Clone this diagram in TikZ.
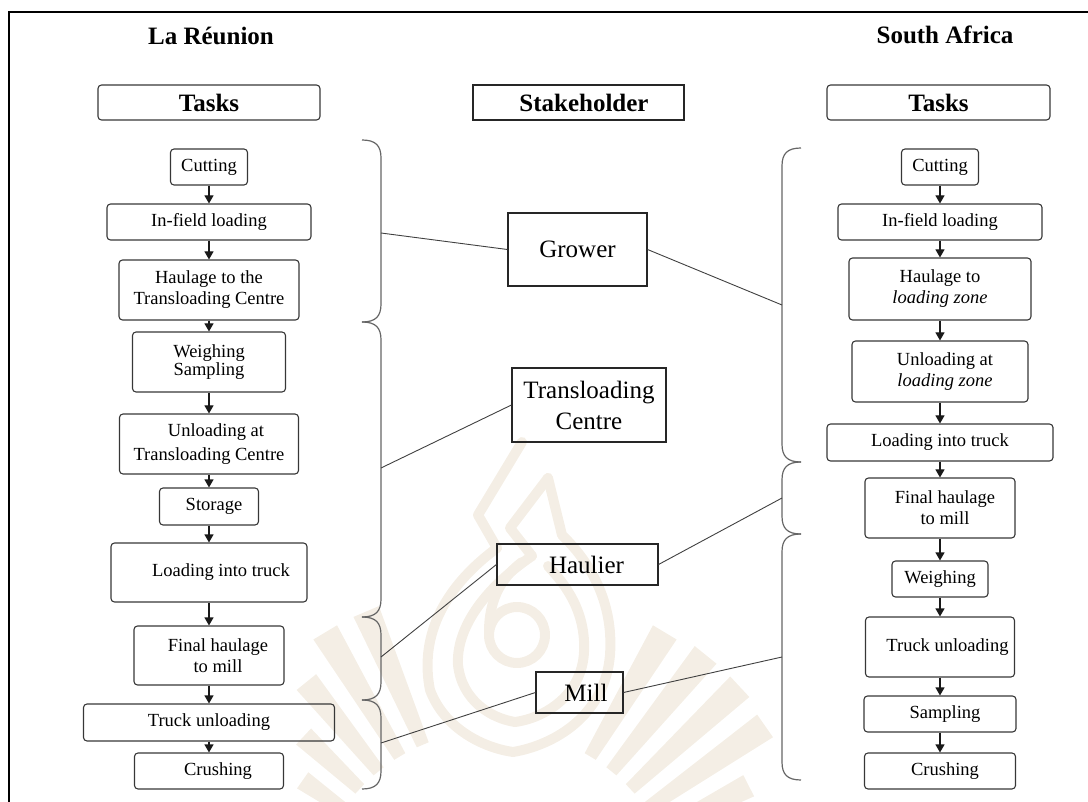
\documentclass[tikz,border=0pt]{standalone}
\usepackage{fontspec}
\setmainfont{Liberation Serif}
\usetikzlibrary{arrows.meta}

\definecolor{wm}{RGB}{244,238,229}
\definecolor{boxline}{RGB}{55,55,55}

% curled bracket opening to the left (tasks on the left, spine at x=381)
\newcommand\taskbrkL[2]{%
  \draw[brace] (362,#1) .. controls (376,#1) and (381,#1+6) .. (381,#1+18)
    -- (381,#2-18) .. controls (381,#2-6) and (376,#2) .. (362,#2);}
% curled bracket opening to the right (tasks on the right, spine at x=782)
\newcommand\taskbrkR[2]{%
  \draw[brace] (801,#1) .. controls (787,#1) and (782,#1+6) .. (782,#1+18)
    -- (782,#2-18) .. controls (782,#2-6) and (787,#2) .. (801,#2);}

\begin{document}
\begin{tikzpicture}[x=1pt,y=-1pt,
  task/.style={draw=boxline, line width=1.1pt, rounded corners=3.5pt, inner sep=0pt,
    align=center, font=\fontsize{18.5}{21}\selectfont},
  head/.style={draw=boxline, line width=1.1pt, rounded corners=3.5pt, inner sep=0pt,
    font=\fontsize{25}{28}\selectfont\bfseries},
  actor/.style={draw=black!85, line width=1.1pt, inner sep=0pt, align=center,
    font=\fontsize{25}{31}\selectfont},
  title/.style={font=\fontsize{25}{28}\selectfont\bfseries},
  flow/.style={-{Triangle[length=8pt,width=9pt]}, line width=1.1pt, draw=black!90},
  brace/.style={draw=black!60, line width=1.2pt},
  link/.style={draw=black!75, line width=0.9pt},
  wmband/.style={draw=wm, line width=10pt, line join=round, line cap=round}]

\useasboundingbox (0,0) rectangle (1088,802);

% ---- faint emblem in the background ----
\foreach \a/\r in {27/285,35/330,43/335,51/335,59/330,113/330,121/330,129/300,137/262,145/235}
  \fill[wm, shift={(495,915)}] (-\a+2:185) -- (-\a-2:185) -- (-\a-2.4:\r) -- (-\a+2.4:\r) -- cycle;
\draw[wmband] (522,442) -- (478,515) -- (497,548);
\draw[wmband] (548,478) -- (510,528) -- (532,556);
\draw[wmband] (497,548) .. controls (440,590) and (420,640) .. (430,690)
  .. controls (445,730) and (485,748) .. (513,752)
  .. controls (555,745) and (605,715) .. (610,655)
  .. controls (614,600) and (588,560) .. (562,535) -- (548,478);
\draw[wmband] (532,556) .. controls (482,590) and (456,630) .. (458,665)
  .. controls (462,700) and (490,718) .. (515,722)
  .. controls (545,718) and (582,695) .. (584,652)
  .. controls (586,612) and (566,585) .. (548,566);
\draw[wmband] (517,635) circle[radius=28];
\draw[wmband] (489,632) .. controls (489,595) and (505,575) .. (522,562);

% ---- frame ----
\draw[line width=2.4pt] (9,802) -- (9,12) -- (1088,12);

% ---- titles ----
\node[title] (tl) at (211,36) {La Réunion};
\node[title] (tr) at (945,35) {South Africa};

\node[head, minimum width=222pt, minimum height=35pt] (hl) at (209,102.5) {Tasks};
\node[head, minimum width=223pt, minimum height=35pt] (hr) at (938.5,102.5) {Tasks};
\node[actor, font=\fontsize{25}{28}\selectfont\bfseries, minimum width=211pt, minimum height=35pt]
  (hs) at (578.5,102.5) {\hspace*{11pt}Stakeholder};

% ---- La Réunion task chain ----
\node[task, minimum width=77pt,  minimum height=36pt] (l1)  at (209,167)   {Cutting};
\node[task, minimum width=204pt, minimum height=36pt] (l2)  at (209,222)   {In-field loading};
\node[task, minimum width=180pt, minimum height=60pt] (l3)  at (209,290)   {Haulage to the\\Transloading Centre};
\node[task, minimum width=153pt, minimum height=60pt, font=\fontsize{18.5}{18}\selectfont]
  (l4)  at (209,362)   {Weighing\\Sampling};
\node[task, minimum width=179pt, minimum height=60pt, font=\fontsize{18.5}{24}\selectfont]
  (l5)  at (209,444)   {\hspace*{14pt}Unloading at\\Transloading Centre};
\node[task, minimum width=99pt,  minimum height=37pt] (l6)  at (209,506.5) {\hspace*{10pt}Storage};
\node[task, minimum width=196pt, minimum height=59pt] (l7)  at (209,572.5) {\hspace*{24pt}Loading into truck};
\node[task, minimum width=150pt, minimum height=59pt] (l8)  at (209,655.5) {\hspace*{18pt}Final haulage\\\hspace*{18pt}to mill};
\node[task, minimum width=251pt, minimum height=37pt] (l9)  at (209,722.5) {Truck unloading};
\node[task, minimum width=149pt, minimum height=36pt] (l10) at (209,771)   {\hspace*{18pt}Crushing};

\foreach \i/\j in {l1/l2,l2/l3,l3/l4,l4/l5,l5/l6,l6/l7,l7/l8,l8/l9,l9/l10}
  \draw[flow] (\i) -- (\j);

% ---- South Africa task chain ----
\node[task, minimum width=77pt,  minimum height=36pt] (r1)  at (940,167)   {Cutting};
\node[task, minimum width=204pt, minimum height=36pt] (r2)  at (940,222)   {In-field loading};
\node[task, minimum width=182pt, minimum height=62pt] (r3)  at (940,289)   {Haulage to\\\textit{loading zone}};
\node[task, minimum width=176pt, minimum height=61pt] (r4)  at (940,371.5) {\hspace*{10pt}Unloading at\\\hspace*{10pt}\textit{loading zone}};
\node[task, minimum width=226pt, minimum height=37pt] (r5)  at (940,442.5) {Loading into truck};
\node[task, minimum width=150pt, minimum height=60pt] (r6)  at (940,508)   {\hspace*{10pt}Final haulage\\\hspace*{10pt}to mill};
\node[task, minimum width=96pt,  minimum height=36pt] (r7)  at (940,579)   {Weighing};
\node[task, minimum width=149pt, minimum height=60pt] (r8)  at (940,647)   {\hspace*{15pt}Truck unloading};
\node[task, minimum width=152pt, minimum height=36pt] (r9)  at (940,714)   {\hspace*{10pt}Sampling};
\node[task, minimum width=151pt, minimum height=36pt] (r10) at (940,771)   {\hspace*{10pt}Crushing};

\foreach \i/\j in {r1/r2,r2/r3,r3/r4,r4/r5,r5/r6,r6/r7,r7/r8,r8/r9,r9/r10}
  \draw[flow] (\i) -- (\j);

% ---- stakeholders ----
\node[actor, minimum width=139pt, minimum height=73pt] (grower) at (577.5,249.5) {Grower};
\node[actor, minimum width=154pt, minimum height=74pt] (trans)  at (589,405)     {Transloading\\Centre};
\node[actor, minimum width=161pt, minimum height=41pt] (haul)   at (577.5,564.5) {\hspace*{18pt}Haulier};
\node[actor, minimum width=87pt,  minimum height=41pt] (mill)   at (579.5,692.5) {\hspace*{13pt}Mill};

% ---- brackets grouping the tasks ----
\taskbrkL{140}{322}
\taskbrkL{322}{617}
\taskbrkL{617}{700}
\taskbrkL{700}{789}
\taskbrkR{148}{462}
\taskbrkR{462}{534}
\taskbrkR{534}{780}

\coordinate (gL) at (381,233);
\coordinate (tL) at (381,468);
\coordinate (hL) at (381,657);
\coordinate (mL) at (381,743);
\coordinate (gR) at (782,305);
\coordinate (hR) at (782,498);
\coordinate (mR) at (782,657);

\draw[link] (gL) -- (grower.west);
\draw[link] (tL) -- (trans.west);
\draw[link] (hL) -- (haul.west);
\draw[link] (mL) -- (mill.west);
\draw[link] (grower.east) -- (gR);
\draw[link] (haul.east) -- (hR);
\draw[link] (mill.east) -- (mR);

\end{tikzpicture}
\end{document}
